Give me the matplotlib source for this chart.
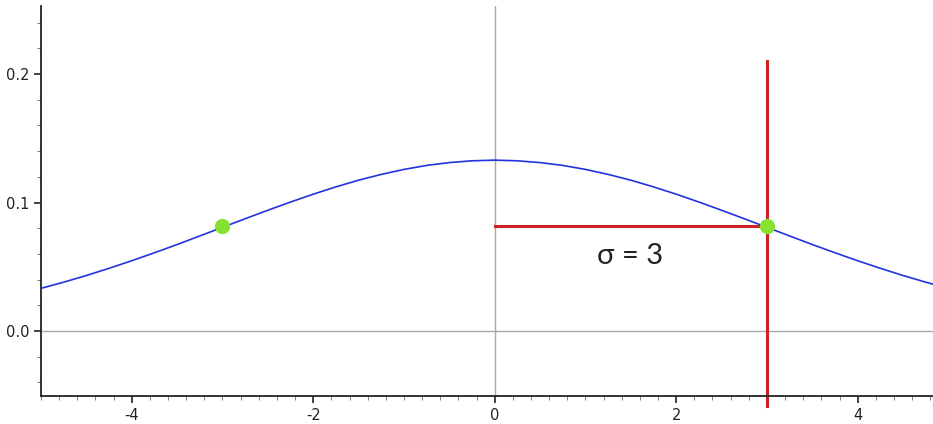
import numpy as np
import matplotlib
matplotlib.use('Agg')
import matplotlib.pyplot as plt

# curve (normal density, sigma = 3)
x_vals = [-5.0, -4.75, -4.5, -4.25, -4.0, -3.75, -3.5, -3.25, -3.0, -2.75,
          -2.5, -2.25, -2.0, -1.75, -1.5, -1.25, -1.0, -0.75, -0.5, -0.25,
          0.0, 0.25, 0.5, 0.75, 1.0, 1.25, 1.5, 1.75, 2.0, 2.25,
          2.5, 2.75, 3.0, 3.25, 3.5, 3.75, 4.0, 4.25, 4.5, 4.75, 5.0]
y_vals = [0.0332, 0.0380, 0.0432, 0.0488, 0.0547, 0.0609, 0.0673, 0.0740, 0.0807, 0.0874,
          0.0940, 0.1004, 0.1065, 0.1122, 0.1174, 0.1219, 0.1258, 0.1289, 0.1311, 0.1325,
          0.1330, 0.1325, 0.1311, 0.1289, 0.1258, 0.1219, 0.1174, 0.1122, 0.1065, 0.1004,
          0.0940, 0.0874, 0.0807, 0.0740, 0.0673, 0.0609, 0.0547, 0.0488, 0.0432, 0.0380, 0.0332]

marked_x = [-3, 3]
marked_y = [0.0815, 0.0815]

sigma = 3
sigma_top = 0.21
sigma_bottom = -0.058
label = 'σ = 3'

x_ticks = [-4, -2, 0, 2, 4]
y_ticks = [0.0, 0.1, 0.2]

fig = plt.figure(figsize=(9.33, 4.24), dpi=100)
ax = fig.add_axes([41 / 933, 28 / 424, 892 / 933, 390 / 424])

ax.axhline(0, color='#a8a8a8', lw=1, zorder=1)
ax.axvline(0, color='#a8a8a8', lw=1, zorder=1)

ax.plot(x_vals, y_vals, color='#2233dd', lw=1.2, zorder=3)

# sigma markers
ax.plot([0, sigma], [marked_y[1], marked_y[1]], color='#cc2222', lw=2.2, zorder=2)
ax.plot([sigma, sigma], [sigma_bottom, sigma_top], color='#cc2222', lw=2.2,
        zorder=2, clip_on=False)
ax.plot(marked_x, marked_y, 'o', color='#88e030', ms=11, mec='none', zorder=4)

ax.text(1.49, 0.058, label, fontsize=21, family='Lato', color='#222222',
        ha='center', va='center')

ax.set_xlim(-5, 4.83)
ax.set_ylim(-0.0506, 0.253)
ax.set_xticks(x_ticks)
ax.set_xticklabels([str(t) for t in x_ticks])
ax.set_yticks(y_ticks)
ax.set_yticklabels(['%.1f' % t for t in y_ticks])
ax.set_xticks(np.arange(-5, 4.9, 0.2), minor=True)
ax.set_yticks(np.arange(-0.04, 0.26, 0.02), minor=True)

for side in ['top', 'right']:
    ax.spines[side].set_visible(False)
for side in ['left', 'bottom']:
    ax.spines[side].set_linewidth(1.3)
    ax.spines[side].set_color('#222222')

ax.tick_params(which='major', length=5, width=1.2, labelsize=10.5,
               colors='#222222', direction='out')
ax.tick_params(which='minor', length=3, width=0.6, color='#666666')

fig.savefig('out.png', dpi=100)
